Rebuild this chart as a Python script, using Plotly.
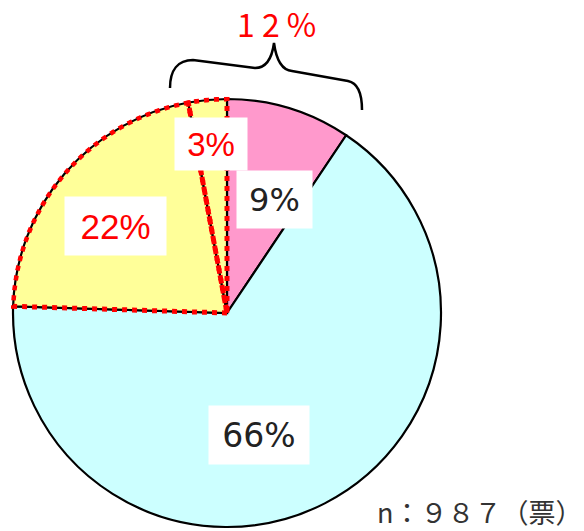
import numpy as np
import plotly.graph_objects as go

# ---- data ----
categories = ["A", "B", "C", "D"]
values = [9.4, 66.1, 21.6, 2.9]          # percent, clockwise from 12 o'clock
slice_colors = ["#FF99CC", "#CCFFFF", "#FFFF99", "#FFFF99"]
label_text = [f"{round(v)}%" for v in values]
group_total_label = "1 2 %"
n_label = "n：９８７（票）"

W, H = 584, 531

def px(x):
    return x / W

def py(y):
    return 1 - y / H

total = sum(values)
spans = [v / total * 360 for v in values]
starts = np.cumsum([0] + spans[:-1])
mids = [s + w / 2 for s, w in zip(starts, spans)]

RMAX = 1.01
CX, CY, R = 227, 313, 214 * RMAX

fig = go.Figure()
fig.add_trace(go.Barpolar(
    r=[1] * len(values), theta=mids, width=spans,
    marker=dict(color=slice_colors, line=dict(color="black", width=2.2)),
    hoverinfo="skip", showlegend=False,
))

# red dotted outline around the two yellow slices
for i in (2, 3):
    a0, a1 = starts[i], starts[i] + spans[i]
    arc = list(np.linspace(a0, a1, 80))
    th = [a0] + arc + [a1]
    rr = [0] + [1] * len(arc) + [0]
    fig.add_trace(go.Scatterpolar(
        r=rr, theta=th, mode="lines", cliponaxis=False,
        line=dict(color="#FF0000", width=5, dash="5px,5px"),
        hoverinfo="skip", showlegend=False,
    ))

fig.update_layout(
    width=W, height=H,
    margin=dict(l=0, r=0, t=0, b=0),
    paper_bgcolor="white",
    polar=dict(
        domain=dict(x=[px(CX - R), px(CX + R)], y=[max(0, py(CY + R)), py(CY - R)]),
        bgcolor="rgba(0,0,0,0)",
        radialaxis=dict(visible=False, range=[0, RMAX]),
        angularaxis=dict(visible=False, rotation=90, direction="clockwise"),
        bargap=0,
    ),
)

# value labels in white boxes
lab_pos = [(274, 199, 73, 55, "#222222", "DejaVu Sans", 32),
           (259, 435, 98, 56, "#222222", "DejaVu Sans", 33),
           (115, 226, 99, 56, "#FF0000", "Liberation Sans", 35),
           (211, 144, 70, 50, "#FF0000", "Liberation Sans", 33)]
for t, (x, y, w, h, c, f, s) in zip(label_text, lab_pos):
    fig.add_annotation(x=px(x), y=py(y), xref="paper", yref="paper",
                       xanchor="center", yanchor="middle",
                       text=t, showarrow=False, bgcolor="white",
                       width=w, height=h, align="center", valign="middle",
                       font=dict(color=c, family=f, size=s))

fig.add_annotation(x=px(276), y=py(23), xref="paper", yref="paper",
                   xanchor="center", yanchor="middle",
                   text=group_total_label, showarrow=False,
                   font=dict(color="#FF0000", family="Noto Sans CJK JP", size=32))

fig.add_annotation(x=px(584), y=py(511), xref="paper", yref="paper",
                   xanchor="right", yanchor="middle", text=n_label, showarrow=False,
                   font=dict(color="#333333", family="Noto Sans CJK JP", size=27))

# curly brace
pts = [(170, 88), (170, 70), (178, 60), (193, 60), (255, 68), (266, 68), (272, 58), (274, 43),
       (276, 58), (281, 70), (292, 71), (348, 81), (358, 83), (362, 93), (362, 110)]
P = [(px(x), py(y)) for x, y in pts]
path = (f"M {P[0][0]},{P[0][1]} C {P[1][0]},{P[1][1]} {P[2][0]},{P[2][1]} {P[3][0]},{P[3][1]} "
        f"L {P[4][0]},{P[4][1]} C {P[5][0]},{P[5][1]} {P[6][0]},{P[6][1]} {P[7][0]},{P[7][1]} "
        f"C {P[8][0]},{P[8][1]} {P[9][0]},{P[9][1]} {P[10][0]},{P[10][1]} "
        f"L {P[11][0]},{P[11][1]} C {P[12][0]},{P[12][1]} {P[13][0]},{P[13][1]} {P[14][0]},{P[14][1]}")
fig.add_shape(type="path", path=path, xref="paper", yref="paper",
              line=dict(color="black", width=2.5))

fig.write_html("out.html", config={"displayModeBar": False},
               post_script="document.body.style.margin='0px';")
